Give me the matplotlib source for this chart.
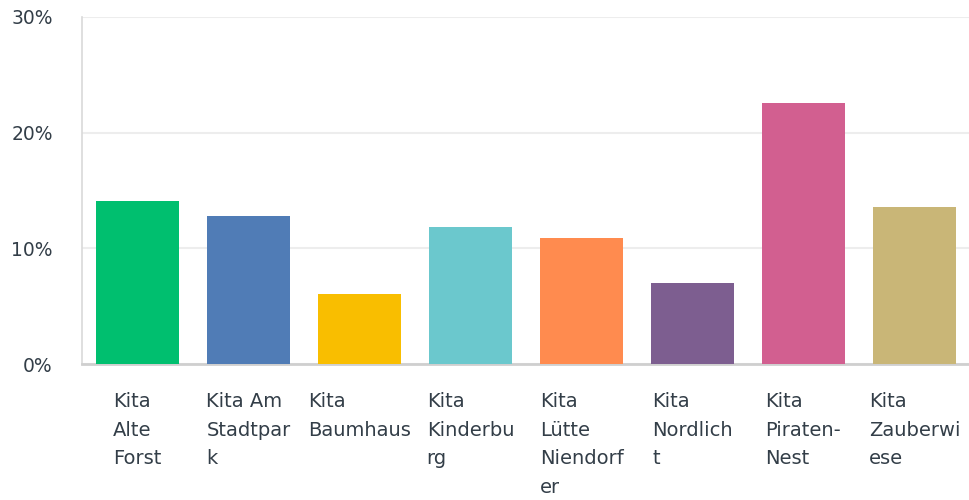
import numpy as np
import matplotlib
matplotlib.use("Agg")
import matplotlib.pyplot as plt
from matplotlib.ticker import FuncFormatter

# Daten (Anteile in %)
kitas = ["Kita Alte Forst", "Kita Am Stadtpark", "Kita Baumhaus", "Kita Kinderburg",
         "Kita Lütte Niendorfer", "Kita Nordlicht", "Kita Piraten-Nest", "Kita Zauberwiese"]
labels = ["Kita\nAlte\nForst", "Kita Am\nStadtpar\nk", "Kita\nBaumhaus", "Kita\nKinderbu\nrg",
          "Kita\nLütte\nNiendorf\ner", "Kita\nNordlich\nt", "Kita\nPiraten-\nNest", "Kita\nZauberwi\nese"]
anteile = [14.1, 12.8, 6.05, 11.85, 10.9, 7.0, 22.6, 13.6]
yticks = [0, 10, 20, 30]

farben = ["#00BF6F", "#507CB6", "#F9BE00", "#6BC8CD",
          "#FF8B4F", "#7D5E90", "#D25F90", "#C9B677"]

TEXT = "#333E48"

fig = plt.figure(figsize=(9.69, 5.0), dpi=100)
ax = fig.add_axes([82 / 969, 1 - 364 / 500, 888 / 969, (364 - 17) / 500])

x = np.arange(len(anteile))
ax.bar(x, anteile, width=0.74, color=farben, zorder=3)

ax.set_xlim(-0.5, len(anteile) - 0.5)
ax.set_ylim(0, 30)
ax.set_yticks(yticks)
ax.yaxis.set_major_formatter(FuncFormatter(lambda v, p: f"{v:.0f}%"))
ax.grid(axis="y", color="#EDEDED", linewidth=1.5, zorder=0)

for s in ["top", "right"]:
    ax.spines[s].set_visible(False)
ax.spines["left"].set_color("#D9D9D9")
ax.spines["left"].set_linewidth(1.2)
ax.spines["bottom"].set_color("#CFCFCF")
ax.spines["bottom"].set_linewidth(2)

ax.set_xticks(x)
ax.set_xticklabels(labels, multialignment="left", linespacing=1.65,
                   fontsize=14, color=TEXT)
ax.tick_params(axis="x", length=0, pad=20)
ax.tick_params(axis="y", length=0, pad=21, labelsize=13.5, labelcolor=TEXT)

fig.savefig("out.png", dpi=100)
